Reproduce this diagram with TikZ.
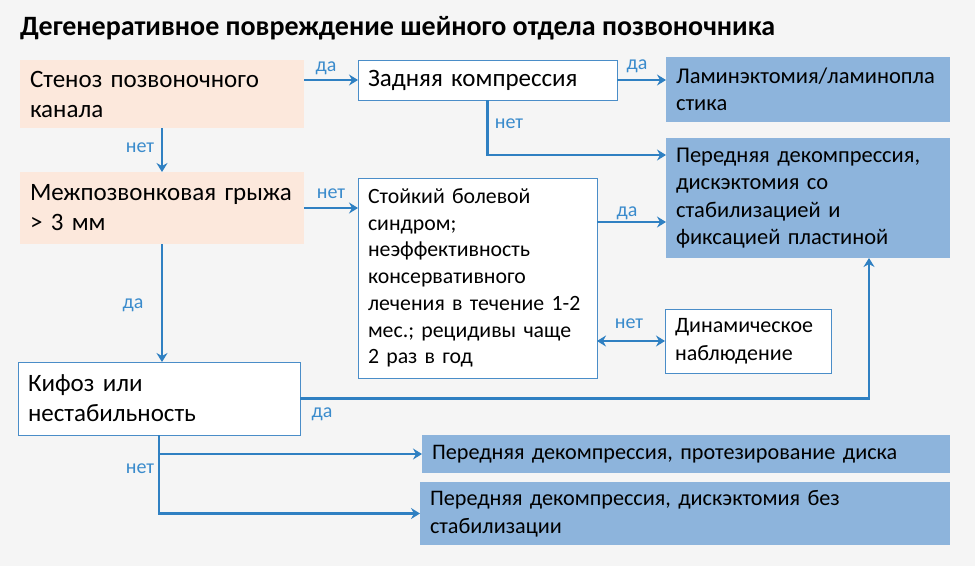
\documentclass[tikz,border=0pt]{standalone}
\usepackage{fontspec}
\setmainfont{Carlito}
\usetikzlibrary{arrows.meta,calc}
\definecolor{bgc}{HTML}{F5F5F5}
\definecolor{peachc}{HTML}{FCE8DC}
\definecolor{bluec}{HTML}{8DB4DC}
\definecolor{arrc}{HTML}{2F80C2}
\definecolor{lblc}{HTML}{3A8BCC}
\definecolor{bordc}{HTML}{4A8DC8}
\begin{document}
\begin{tikzpicture}[x=1pt,y=-1pt,
  every node/.style={inner sep=0pt, outer sep=0pt},
  boxbase/.style={anchor=north west, align=left, inner xsep=10pt, inner ysep=0pt,
    font=\fontsize{25}{30}\selectfont},
  peach/.style={boxbase, fill=peachc},
  wbox/.style={boxbase, fill=white, draw=bordc, line width=1pt},
  bbox/.style={boxbase, fill=bluec, font=\fontsize{22.2}{28}\selectfont},
  bboxup/.style={bbox, font=\fontsize{22.5}{27.5}\selectfont},
  arr/.style={draw=arrc, line width=2.7pt, -{Stealth[length=9pt,width=11pt,inset=3pt]}},
  darr/.style={draw=arrc, line width=2.7pt, {Stealth[length=9pt,width=11pt,inset=3pt]}-{Stealth[length=9pt,width=11pt,inset=3pt]}},
  lbl/.style={text=lblc, font=\fontsize{20}{22}\selectfont, anchor=base}
]
\useasboundingbox[fill=bgc] (0,0) rectangle (975,566);
\node[anchor=base west, font=\bfseries\fontsize{28}{32}\selectfont] (title) at (20,35) {Дегенеративное повреждение шейного отдела позвоночника};

\node[peach, text width=264pt, minimum height=68pt] (peach1) at (20,60) {Стеноз позвоночного\\канала};
\node[peach, text width=264pt, minimum height=72pt] (peach2) at (20,172) {Межпозвонковая грыжа\\> 3 мм};
\node[wbox, text width=239pt, minimum height=40pt] (zadn) at (358,60) {Задняя компрессия};
\node[bboxup, text width=264pt, minimum height=65pt] (lamin) at (666,57) {Ламинэктомия/ламинопла\\стика};
\node[bboxup, text width=264pt, minimum height=120pt] (pered1) at (666,138) {Передняя декомпрессия,\\дискэктомия со\\стабилизацией и\\фиксацией пластиной};
\node[wbox, inner xsep=10pt, text width=219pt, minimum height=200pt, font=\fontsize{21.8}{26.7}\selectfont] (stoik) at (358,178) {Стойкий болевой\\синдром;\\неэффективность\\консервативного\\\mbox{лечения в течение 1-2}\\мес.; рецидивы чаще\\2 раз в год};
\node[wbox, text width=146pt, minimum height=64pt, font=\fontsize{22}{28}\selectfont] (dinam) at (665,309) {Динамическое\\наблюдение};
\node[wbox, text width=262pt, minimum height=73pt] (kifoz) at (18,362) {Кифоз или\\нестабильность};
\node[bbox, text width=508pt, minimum height=38pt] (prot) at (422,435) {Передняя декомпрессия, протезирование диска};
\node[bbox, text width=510pt, minimum height=63pt] (bez) at (420,482) {Передняя декомпрессия, дискэктомия без\\стабилизации};

\coordinate (zturn) at ($(pered1.north west)+(0,17)$);
\coordinate (sda) at (597,222);
\coordinate (kup) at ($(pered1.south east)+(-81,0)$);

\draw[arr] (zadn.west -| peach1.east) -- (zadn.west);
\draw[arr] (zadn.east) -- (zadn.east -| lamin.west);
\draw[arr] (zadn.south) |- (zturn);
\draw[arr] (peach1.south) -- (peach2.north);
\draw[arr] (peach2.east) -- (peach2.east -| stoik.west);
\draw[arr] (sda) -- (sda -| pered1.west);
\draw[darr] (dinam.west -| stoik.east) -- (dinam.west);
\draw[arr] (peach2.south) -- (peach2.south |- kifoz.north);
\draw[arr] (kifoz.east) -| (kup);
\draw[arr] (kifoz.south) |- (prot.west);
\draw[arr] (kifoz.south) |- (bez.west);

\node[lbl] (l1) at (326,71) {да};
\node[lbl] (l2) at (637,69) {да};
\node[lbl] (l3) at (509,128) {нет};
\node[lbl] (l4) at (140,152) {нет};
\node[lbl] (l5) at (331,198) {нет};
\node[lbl] (l6) at (627,216) {да};
\node[lbl] (l7) at (629,328) {нет};
\node[lbl] (l8) at (133,308) {да};
\node[lbl] (l9) at (322,417) {да};
\node[lbl] (l10) at (140,473) {нет};
\end{tikzpicture}
\end{document}
